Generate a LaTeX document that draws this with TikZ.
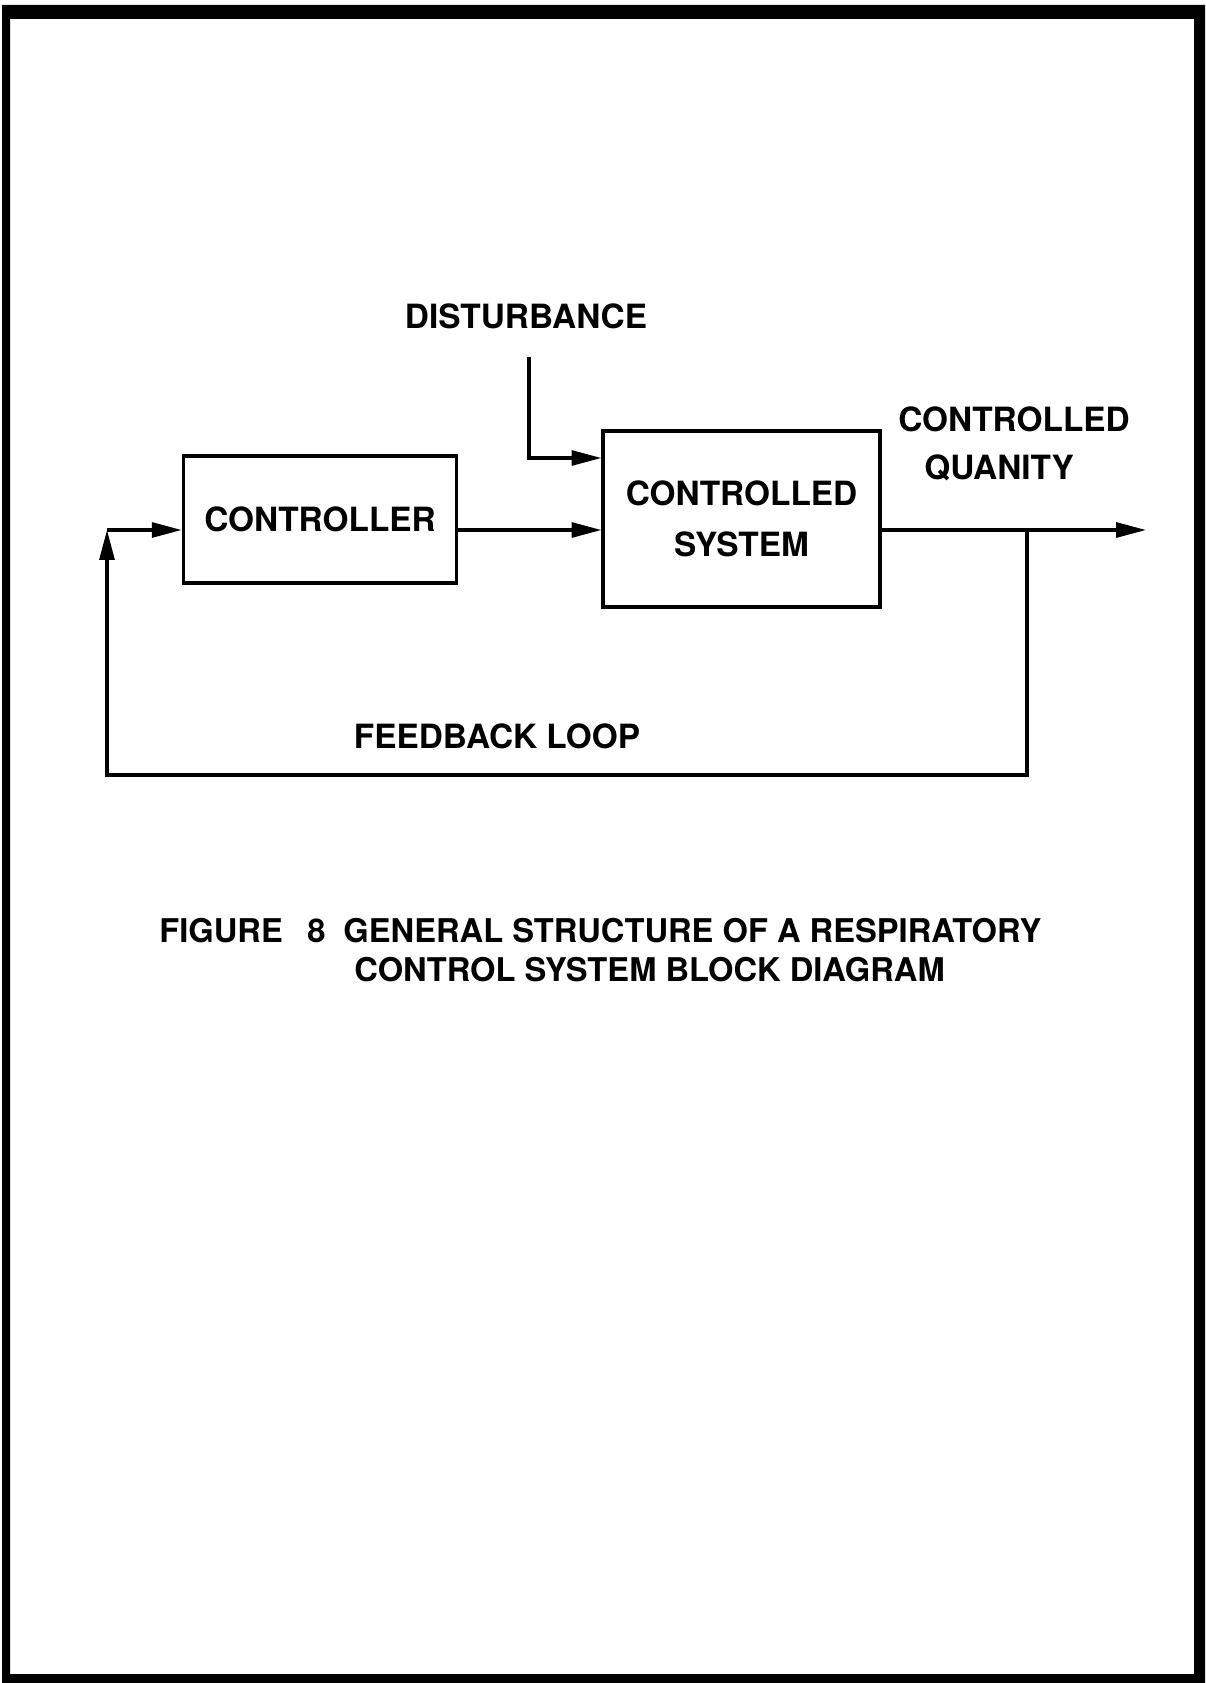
\documentclass[tikz,border=0pt]{standalone}
\usepackage{fontspec}
\setmainfont{TeX Gyre Heros}
\usetikzlibrary{arrows.meta, calc}

\tikzset{
  block/.style={draw, line width=1.8pt, align=center, inner sep=0pt},
  sig/.style={line width=1.8pt, -{Triangle[length=17pt, width=8.5pt]}},
  lbl/.style={align=center, inner sep=0pt},
  capt/.style={inner sep=0pt, anchor=west, font=\bfseries\fontsize{18.6pt}{26pt}\selectfont},
}

\begin{document}
\begin{tikzpicture}[x=0.02cm, y=-0.02cm, font=\bfseries\fontsize{19pt}{27pt}\selectfont, line join=miter]

\useasboundingbox (0,0) rectangle (1206,1683);
\fill[even odd rule] (2,5) rectangle (1205,1683) (10,19) rectangle (1194,1674);

\node[block, minimum width=5.47cm, minimum height=2.54cm] (ctrl) at (320,519.5) {CONTROLLER};
\node[block, minimum width=5.54cm, minimum height=3.52cm] (sys) at (741.5,519) {CONTROLLED\\[2pt]SYSTEM};

\node[lbl] (dist) at (526,316) {DISTURBANCE};
\node[lbl] (quant) at (1014,444) {CONTROLLED\\\mbox{QUANITY\hspace{17pt}}};
\node[lbl] (fbl) at (497,736) {FEEDBACK LOOP};

\node[capt] (cap1) at (159,931) {FIGURE\hspace{0.75em}8\hspace{0.55em}GENERAL STRUCTURE OF A RESPIRATORY};
\node[capt] (cap2) at (354,970) {CONTROL SYSTEM BLOCK DIAGRAM};

\coordinate (dtop) at (529,357);
\coordinate (dlev) at (0,458);
\coordinate (fbin) at (107,530);
\coordinate (tap) at (1027,530);
\coordinate (out) at (1146,530);
\coordinate (fbbot) at (0,775);

\draw[sig] (dtop) |- (sys.west |- dlev);
\draw[sig] (ctrl.east |- fbin) -- (sys.west |- fbin);
\draw[sig] (sys.east |- fbin) -- (out);
\draw[sig] (tap) |- (fbin |- fbbot) -- (fbin);
\draw[sig] (fbin) -- (ctrl.west |- fbin);

\end{tikzpicture}
\end{document}
